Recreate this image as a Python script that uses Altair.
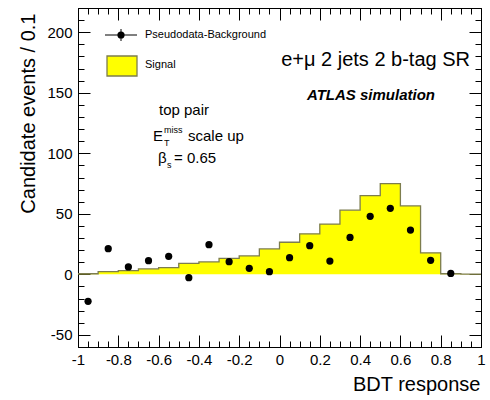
import altair as alt
import pandas as pd

# Histogram bin edges and signal content per bin (BDT response, bin width 0.1)
edges = [round(-1 + 0.1 * i, 1) for i in range(21)]
signal = [0.5, 2.3, 3.1, 4.5, 5.6, 9.1, 10.3, 13.2, 15.2, 21.0,
          26.5, 33.5, 41.5, 53.0, 65.0, 75.0, 56.5, 17.8, 0.5, 0.2]

# Pseudodata minus background, at bin centres
centers = [round(-0.95 + 0.1 * i, 2) for i in range(19)]
pseudo = [-22.3, 21.2, 6.1, 11.3, 14.9, -2.7, 24.5, 10.5, 5.0, 2.2,
          13.8, 23.7, 11.0, 30.5, 47.9, 54.5, 36.6, 11.6, 0.8]

# Tick positions
x_major = [round(-1 + 0.2 * i, 1) for i in range(11)]
x_minor = [round(-1 + 0.05 * i, 2) for i in range(41)]
y_major = [-50, 0, 50, 100, 150, 200]
y_minor = list(range(-60, 221, 10))

W, H = 403, 339
L, T = 78, 8
FONT = "Liberation Sans"
OUTLINE = "#7d7d4e"

hist = pd.DataFrame({"x": edges, "y": signal + [signal[-1]]})
pts = pd.DataFrame({"x": centers, "y": pseudo})
one = pd.DataFrame({"k": [0]})

xs = alt.Scale(domain=[-1, 1], nice=False, zero=False)
ys = alt.Scale(domain=[-60, 220], nice=False, zero=False)


def tick_axis(orient, offset, values, size):
    return alt.Axis(orient=orient, offset=offset, values=values, tickSize=size,
                    labels=False, domain=False, grid=False, title=None,
                    tickColor="black", tickWidth=1)


x_labels = alt.Axis(orient="bottom", values=x_major, labelExpr="'' + datum.value",
                    ticks=False, tickSize=0, labelPadding=5, labelFont=FONT,
                    labelFontSize=15, labelColor="black", labelFlush=False,
                    labelOverlap=False, labelBound=False, domain=False, grid=False,
                    title="BDT response", titleFont=FONT, titleFontSize=20,
                    titleFontWeight="normal", titleColor="black", titleAlign="right",
                    titleX=402, titleY=43, titleBaseline="alphabetic")
y_labels = alt.Axis(orient="left", values=y_major, labelExpr="'' + datum.value",
                    ticks=False, tickSize=0, labelPadding=6, labelFont=FONT,
                    labelFontSize=15, labelColor="black", labelFlush=False,
                    labelOverlap=False, labelBound=False, domain=False, grid=False,
                    title="Candidate events / 0.1", titleFont=FONT, titleFontSize=20,
                    titleFontWeight="normal", titleColor="black", titleAngle=270,
                    titleAlign="right", titleBaseline="middle", titleX=-50, titleY=5)

# Signal histogram fill
area = alt.Chart(hist).mark_area(interpolate="step-after", color="#ffff00").encode(
    x=alt.X("x:Q", scale=xs, axis=x_labels),
    y=alt.Y("y:Q", scale=ys, axis=y_labels),
    y2=alt.datum(0),
)

# Histogram outline, carries inward major ticks (bottom / left)
outline = alt.Chart(hist).mark_line(interpolate="step-after", color=OUTLINE,
                                    strokeWidth=1.3).encode(
    x=alt.X("x:Q", scale=xs, axis=tick_axis("top", -H, x_major, 12)),
    y=alt.Y("y:Q", scale=ys, axis=tick_axis("right", -W, y_major, 12)),
)

# Pseudodata points, carry inward minor ticks (bottom / left)
points = alt.Chart(pts).mark_circle(size=52, color="black", opacity=1).encode(
    x=alt.X("x:Q", scale=xs, axis=tick_axis("top", -H, x_minor, 6)),
    y=alt.Y("y:Q", scale=ys, axis=tick_axis("right", -W, y_minor, 6)),
)

# Mirrored ticks on the top and right frame edges
top_major = alt.Chart(pts).mark_point(opacity=0).encode(
    x=alt.X("x:Q", scale=xs, axis=tick_axis("bottom", -H, x_major, 12)),
    y=alt.Y("y:Q", scale=ys, axis=tick_axis("left", -W, y_major, 12)),
)
top_minor = alt.Chart(pts).mark_point(opacity=0).encode(
    x=alt.X("x:Q", scale=xs, axis=tick_axis("bottom", -H, x_minor, 6)),
    y=alt.Y("y:Q", scale=ys, axis=tick_axis("left", -W, y_minor, 6)),
)


def px(v):
    return alt.value(v - L)


def py(v):
    return alt.value(v - T)


def label(text, x, y, size, align="left", baseline="alphabetic", **kw):
    return alt.Chart(one).mark_text(text=text, font=FONT, fontSize=size, align=align,
                                    baseline=baseline, color="black", **kw).encode(
        x=px(x), y=py(y))


# Legend
leg_h = alt.Chart(one).mark_rule(color="black", strokeWidth=1).encode(
    x=px(105), x2=px(137), y=py(35))
leg_v = alt.Chart(one).mark_rule(color="black", strokeWidth=1).encode(
    x=px(121), y=py(29), y2=py(41))
leg_pt = alt.Chart(one).mark_circle(size=52, color="black", opacity=1).encode(
    x=px(121), y=py(35))
leg_box = alt.Chart(one).mark_rect(fill="#ffff00", stroke=OUTLINE, strokeWidth=1.3).encode(
    x=px(107), x2=px(137), y=py(56), y2=py(76))

texts = [
    label("Pseudodata-Background", 145, 35, 11, baseline="middle"),
    label("Signal", 145, 65, 11, baseline="middle"),
    label("e+\u03bc 2 jets 2 b-tag SR", 470, 66, 20, align="right"),
    label("ATLAS simulation", 371, 100, 15, align="center",
          fontWeight="bold", fontStyle="italic"),
    label("top pair", 184, 115, 15, align="center"),
    label("E", 153, 141, 15),
    label("miss", 164, 133, 9),
    label("T", 164, 146, 9),
    label("scale up", 188, 141, 15),
    label("\u03b2", 158, 163, 15),
    label("s", 167, 168, 9),
    label("= 0.65", 174, 163, 15),
]

chart = alt.layer(
    area, outline, points, top_major, top_minor,
    leg_h, leg_v, leg_pt, leg_box, *texts,
).resolve_axis(x="independent", y="independent").properties(
    width=W, height=H,
    autosize=alt.AutoSizeParams(type="none"),
    padding={"left": L, "top": T, "right": 490 - L - W, "bottom": 400 - T - H},
    background="white",
).configure_view(stroke="black", strokeWidth=1)

chart.save("out.html", embed_options={"renderer": "svg", "actions": False})
